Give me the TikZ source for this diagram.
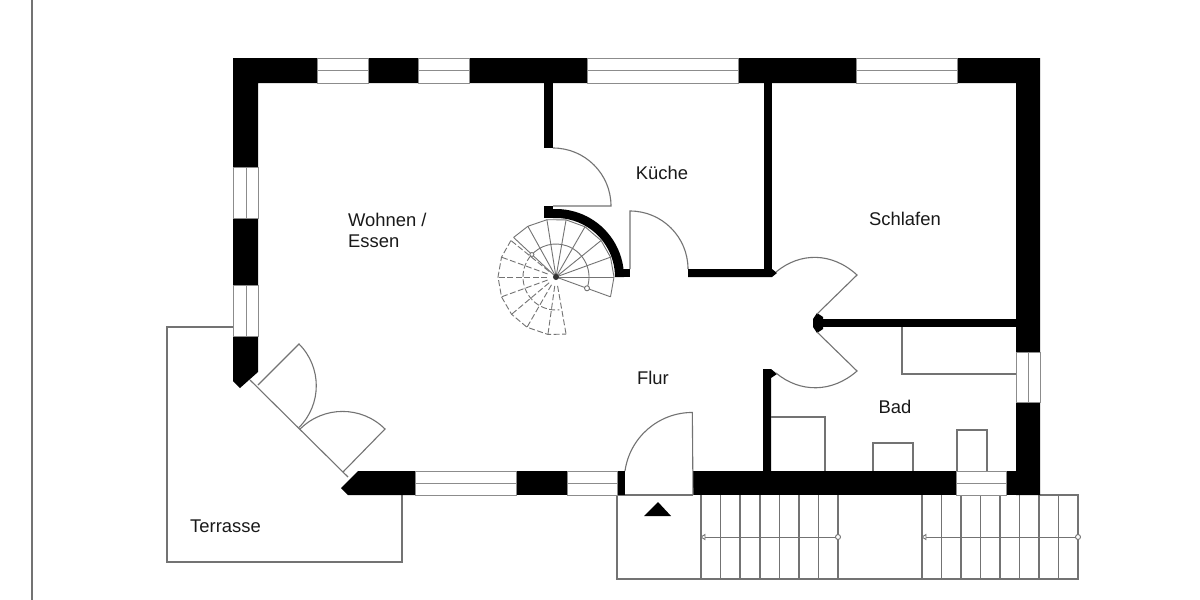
\documentclass[tikz,border=0pt]{standalone}
\usepackage{fontspec}
\setmainfont{Liberation Sans}
\begin{document}
\begin{tikzpicture}[x=1pt,y=1pt,yscale=-1,
  thin line/.style={draw=black!55,line width=1.1pt},
  wall/.style={fill=black,draw=none},
  glass/.style={fill=white,draw=black!45,line width=1pt},
  lbl/.style={font=\fontsize{18.4}{21}\selectfont,inner sep=0pt,text=black!90},
  dashline/.style={thin line,dash pattern=on 6pt off 2.5pt},
  pin/.style={draw=black!55,line width=.9pt,fill=white}]
\useasboundingbox[fill=white] (0,0) rectangle (1200,600);
% margin line
\draw[thin line] (32,0) -- (32,600);
% terrace
\draw[thin line] (233,327) -- (167,327) -- (167,562) -- (402,562) -- (402,495);
% entrance and outside stairs
\draw[thin line] (617,495) -- (617,579) -- (1078,579) -- (1078,495) -- (1040,495);
\draw[thin line] (617,495) -- (693,495);
\foreach \x in {701,720.5,740,760,779.5,799,818.5,838,922,941.5,961,980.5,1000,1019.5,1039,1058.5}
  \draw[thin line] (\x,495) -- (\x,579);
\draw[thin line,line width=.9pt] (703,537) -- (838,537);
\draw[thin line,line width=.9pt] (924,537) -- (1078,537);
\draw[pin] (701,537) -- (705,534.5) -- (705,539.5) -- cycle;
\draw[pin] (922,537) -- (926,534.5) -- (926,539.5) -- cycle;
\draw[pin] (838,537) circle (2.5);
\draw[pin] (1078,537) circle (2.5);
\fill[black] (644,516) -- (671,516) -- (658,502) -- cycle;
% walls
\fill[wall] (233,336) -- (233,58) -- (1040,58) -- (1040,495) -- (1016,495) -- (1016,83) -- (258,83) -- (258,372) -- (240,388) -- (233,381) -- cycle;
\fill[wall] (415,471) -- (358,471) -- (341,488) -- (348,495) -- (415,495) -- cycle;
\fill[wall] (415,471) rectangle (625,495);
\fill[wall] (693,471) rectangle (1040,495);
% inner walls
\fill[wall] (544,83) rectangle (553,148);
\fill[wall] (764,83) rectangle (772,272);
\fill[wall] (688,269) -- (772,269) -- (777,273) -- (772,277) -- (688,277) -- cycle;
\fill[wall] (823,319) rectangle (1016,327);
\fill[wall] (817,313) -- (823,317) -- (823,329) -- (817,333) -- (813,327) -- (813,319) -- cycle;
\fill[wall] (763,471) -- (763,369) -- (771,369) -- (777,374) -- (771,378) -- (771,471) -- cycle;
% windows
\foreach \a/\b in {317/368,418/469,587/738,856/957}{
  \draw[glass] (\a,58) rectangle (\b,83);
  \draw[glass] (\a,70.5) -- (\b,70.5);}
\foreach \a/\b in {415/516,567/617,956/1006}{
  \draw[glass] (\a,471) rectangle (\b,495);
  \draw[glass] (\a,483) -- (\b,483);}
\foreach \a/\b in {167/218,285/336}{
  \draw[glass] (233.5,\a) rectangle (258,\b);
  \draw[glass] (246,\a) -- (246,\b);}
\draw[glass] (1016,352) rectangle (1040,402);
\draw[glass] (1028,352) -- (1028,402);
% stair wall
\fill[wall] (544,206) rectangle (553,218);
\begin{scope}[shift={(556,277)}]
  \fill[wall] (-93:68) arc (-93:0:68) -- (59,0) arc (0:-93:59) -- cycle;
\end{scope}
\fill[wall] (615,269) rectangle (630,277);
% spiral stair
\begin{scope}[shift={(556,277)}]
  \foreach \a in {0,-20,-39,-60,-80,-99,-119,-137}
    \draw[thin line,line width=.9pt] (0,0) -- (\a:58);
  \draw[thin line,line width=.9pt] (20:58) -- (0:58) -- (-20:58) -- (-39:58) -- (-60:58) -- (-80:58) -- (-99:58) -- (-119:58) -- (-137:58);
  \draw[thin line,line width=.9pt] (20:33) arc (20:-140:33);
  \draw[thin line,line width=.9pt] (0,0) -- (20:58);
  \foreach \a in {-141,-160,-180,-200,-220,-240,-262,-280}
    \draw[dashline,line width=.9pt] (\a:9) -- (\a:58);
  \draw[dashline,line width=.9pt] (-141:58) -- (-160:58) -- (-180:58) -- (-200:58) -- (-220:58) -- (-240:58) -- (-262:58) -- (-280:58);
  \draw[dashline,line width=.9pt] (-140:33) arc (-140:-276:33);
  \fill[black!80] (0,0) circle (3);
  \draw[pin] (20:33) circle (2.5);
  \draw[pin] (-137:33) circle (2);
\end{scope}
% kitchen door
\draw[thin line] (553,148) arc (-90:0:58) -- (553,206);
% hall door
\draw[thin line] (630,269) -- (630,211) arc (-90:0:58);
% bedroom door
\draw[thin line] (776,272) .. controls (800,252) and (832,252) .. (857,275) -- (817,314);
% bathroom door
\draw[thin line] (776,373) .. controls (800,393) and (832,393) .. (857,371) -- (817,332);
% bath fittings
\draw[thin line] (902,327) -- (902,374) -- (1016,374);
\draw[thin line] (771,417) -- (825,417) -- (825,471);
\draw[thin line] (873,471) -- (873,443) -- (913,443) -- (913,471);
\draw[thin line] (957,471) -- (957,430) -- (987,430) -- (987,471);
% entrance door
\draw[thin line] (625,471) arc (188:270:68) -- (693,495);
% terrace doors
\draw[thin line] (250,380) -- (348,477);
\draw[thin line] (258,385) -- (299,344) arc (-45:45:59);
\draw[thin line] (343,472) -- (385,429) arc (-45:-135:60);
% labels
\node[lbl,anchor=west] (wohnen) at (348,220) {Wohnen /};
\node[lbl,anchor=west] (essen) at (348,241) {Essen};
\node[lbl] (kueche) at (662,173) {Küche};
\node[lbl] (schlafen) at (905,219) {Schlafen};
\node[lbl] (flur) at (653,378) {Flur};
\node[lbl] (bad) at (895,407) {Bad};
\node[lbl] (terrasse) at (225.5,526) {Terrasse};
\end{tikzpicture}
\end{document}
